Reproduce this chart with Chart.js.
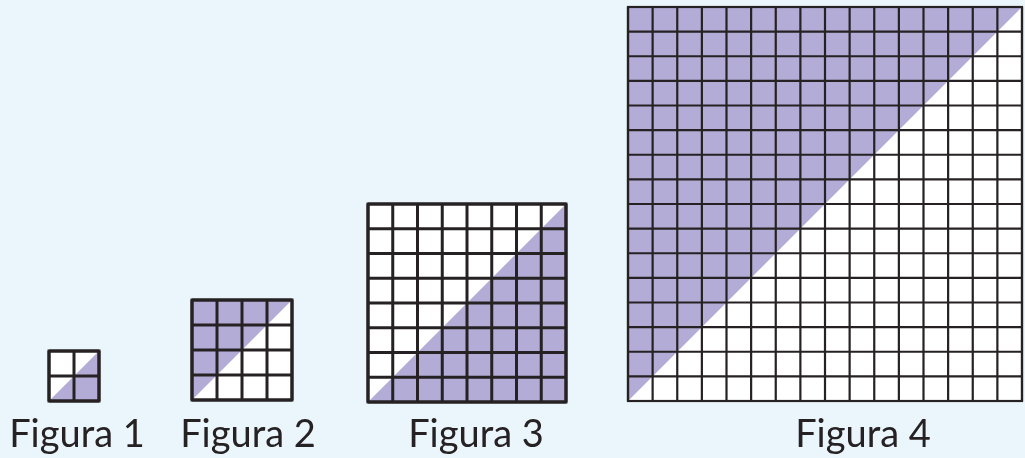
<!DOCTYPE html>
<html>
<head>
<meta charset="utf-8">
<script src="https://cdn.jsdelivr.net/npm/chart.js@4"></script>
<style>
html,body{margin:0;padding:0;background:#eaf5fc;}
#wrap{width:1025px;height:458px;position:relative;}
</style>
</head>
<body>
<div id="wrap"><canvas id="c" width="1025" height="458"></canvas></div>
<script>
// Data
const figureLabels = ['Figura 1', 'Figura 2', 'Figura 3', 'Figura 4'];
const gridSizes = [2, 4, 8, 16];
const shadedSide = ['lower', 'upper', 'lower', 'upper'];

// Layout (in scale units = canvas pixels)
const layout = [
  { x: 49, y: 351, s: 50, lx: 77, lw: 3 },
  { x: 192, y: 300, s: 100, lx: 248, lw: 3 },
  { x: 368, y: 204, s: 198, lx: 476, lw: 3 },
  { x: 628, y: 7, s: 394, lx: 863, lw: 2.2 }
];
const labelBaseline = 447;
const colors = { bg: '#eaf5fc', shade: '#b3acd6', line: '#262223', text: '#262223', cell: '#ffffff' };

const gridPlugin = {
  id: 'grids',
  beforeDatasetsDraw(chart) {
    const { ctx, scales: { x, y } } = chart;
    ctx.save();
    gridSizes.forEach((n, i) => {
      const L = layout[i];
      const x0 = x.getPixelForValue(L.x), x1 = x.getPixelForValue(L.x + L.s);
      const y0 = y.getPixelForValue(L.y), y1 = y.getPixelForValue(L.y + L.s);
      ctx.fillStyle = colors.cell;
      ctx.fillRect(x0, y0, x1 - x0, y1 - y0);
      ctx.fillStyle = colors.shade;
      ctx.beginPath();
      if (shadedSide[i] === 'lower') {
        ctx.moveTo(x0, y1); ctx.lineTo(x1, y0); ctx.lineTo(x1, y1);
      } else {
        ctx.moveTo(x0, y1); ctx.lineTo(x0, y0); ctx.lineTo(x1, y0);
      }
      ctx.closePath();
      ctx.fill();
      ctx.strokeStyle = colors.line;
      ctx.lineWidth = L.lw;
      ctx.beginPath();
      for (let k = 0; k <= n; k++) {
        const px = x.getPixelForValue(L.x + L.s * k / n);
        const py = y.getPixelForValue(L.y + L.s * k / n);
        ctx.moveTo(px, y0); ctx.lineTo(px, y1);
        ctx.moveTo(x0, py); ctx.lineTo(x1, py);
      }
      ctx.stroke();
      ctx.strokeRect(x0, y0, x1 - x0, y1 - y0);
      ctx.fillStyle = colors.text;
      ctx.font = '38px Lato, "Noto Sans", sans-serif';
      ctx.textAlign = 'center';
      ctx.textBaseline = 'alphabetic';
      ctx.fillText(figureLabels[i], x.getPixelForValue(L.lx), y.getPixelForValue(labelBaseline));
    });
    ctx.restore();
  }
};

new Chart(document.getElementById('c'), {
  type: 'scatter',
  data: { datasets: [{ data: [], pointRadius: 0 }] },
  options: {
    responsive: false,
    animation: false,
    layout: { padding: 0 },
    plugins: { legend: { display: false }, tooltip: { enabled: false } },
    scales: {
      x: { type: 'linear', min: 0, max: 1025, display: false },
      y: { type: 'linear', min: 0, max: 458, reverse: true, display: false }
    }
  },
  plugins: [gridPlugin]
});
</script>
</body>
</html>
